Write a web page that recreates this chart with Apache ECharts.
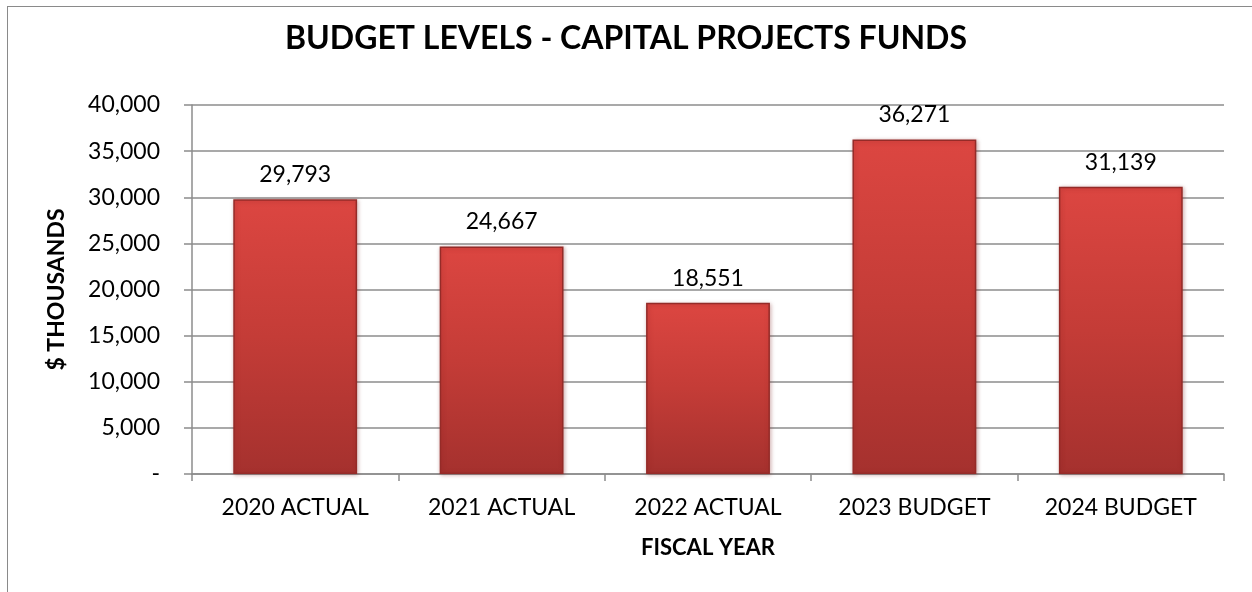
<!DOCTYPE html>
<html>
<head>
<meta charset="utf-8">
<script src="https://cdn.jsdelivr.net/npm/echarts@6/dist/echarts.min.js"></script>
<style>
  html, body { margin: 0; padding: 0; background: #fff; }
  #frame { position: absolute; left: 7px; top: 6px; right: 0; bottom: 0; border-left: 1px solid #8a8a8a; border-top: 1px solid #8a8a8a; }
  #chart { position: absolute; left: 0; top: 0; width: 1252px; height: 592px; }
</style>
</head>
<body>
<div id="frame"></div>
<div id="chart"></div>
<script>
const categories = ['2020 ACTUAL', '2021 ACTUAL', '2022 ACTUAL', '2023 BUDGET', '2024 BUDGET'];
const budgetValues = [29793, 24667, 18551, 36271, 31139];
const yTicks = { min: 0, max: 40000, interval: 5000 };

const fontFamily = 'Lato, "Open Sans", "Liberation Sans", sans-serif';
// accounting style: zero shows as a dash
const fmt = v => v === 0 ? '-' : v.toLocaleString('en-US');

const chart = echarts.init(document.getElementById('chart'), null, { renderer: 'canvas' });
chart.setOption({
  animation: false,
  title: {
    text: 'BUDGET LEVELS - CAPITAL PROJECTS FUNDS',
    left: 'center',
    top: 18,
    textStyle: { fontFamily, fontSize: 32, fontWeight: 'bold', color: '#000' }
  },
  grid: { left: 192, right: 28, top: 105, bottom: 118 },
  xAxis: {
    type: 'category',
    data: categories,
    name: 'FISCAL YEAR',
    nameLocation: 'middle',
    nameGap: 63,
    nameTextStyle: { fontFamily, fontSize: 22, fontWeight: 'bold', color: '#000' },
    axisLine: { lineStyle: { color: '#8c8c8c', width: 1.5 } },
    axisTick: { show: true, length: 7, inside: false, lineStyle: { color: '#8c8c8c', width: 1.5 } },
    axisLabel: { fontFamily, fontSize: 23, color: '#000', margin: 22 }
  },
  yAxis: {
    type: 'value',
    min: yTicks.min,
    max: yTicks.max,
    interval: yTicks.interval,
    name: '$ THOUSANDS',
    nameLocation: 'middle',
    nameGap: 124,
    nameRotate: 90,
    nameTextStyle: { fontFamily, fontSize: 23, fontWeight: 'bold', color: '#000' },
    axisLine: { show: true, lineStyle: { color: '#8c8c8c', width: 1.5 } },
    axisTick: { show: true, length: 8, lineStyle: { color: '#8c8c8c', width: 1.5 } },
    axisLabel: { fontFamily, fontSize: 23, color: '#000', margin: 32, formatter: fmt },
    splitLine: { lineStyle: { color: '#8c8c8c', width: 1.5 } }
  },
  series: [{
    type: 'bar',
    data: budgetValues,
    barWidth: '60%',
    itemStyle: {
      color: new echarts.graphic.LinearGradient(0, 0, 0, 1, [
        { offset: 0, color: '#dc4641' },
        { offset: 0.5, color: '#c43c37' },
        { offset: 1, color: '#a5312e' }
      ]),
      borderColor: '#952b28',
      borderWidth: 1.5,
      shadowColor: 'rgba(120,30,30,0.35)',
      shadowBlur: 4,
      shadowOffsetX: 1,
      shadowOffsetY: 1
    },
    label: {
      show: true,
      position: 'top',
      distance: 13,
      fontFamily,
      fontSize: 23,
      color: '#000',
      formatter: p => fmt(p.value)
    }
  }]
});
</script>
</body>
</html>
